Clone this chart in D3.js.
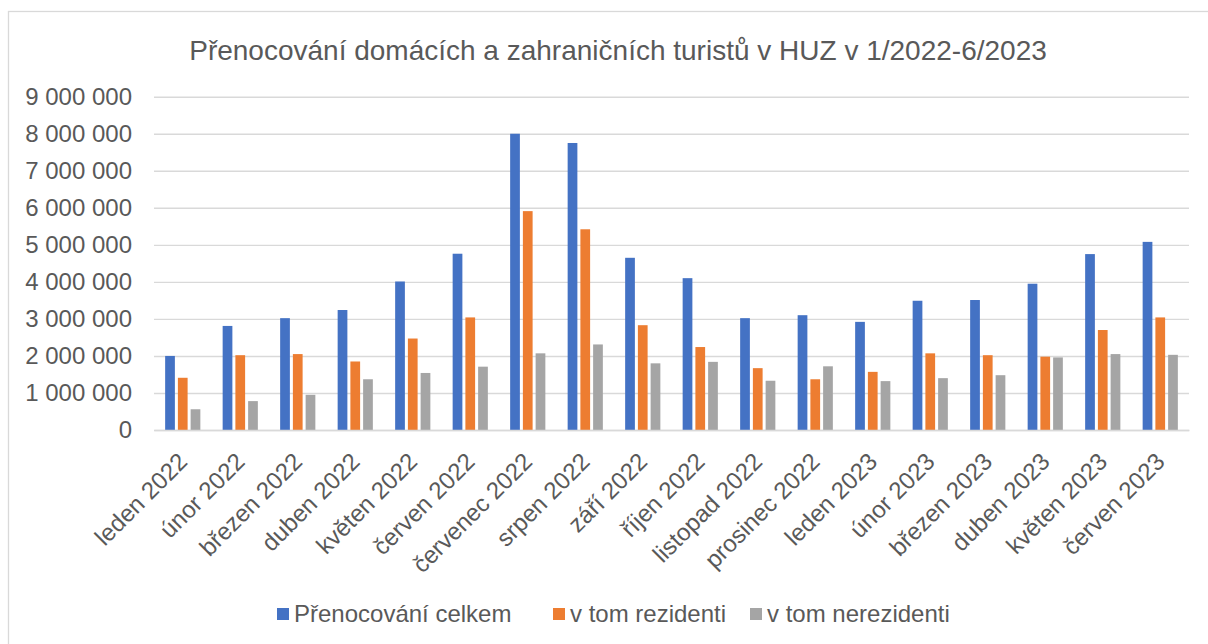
<!DOCTYPE html>
<html><head><meta charset="utf-8">
<script src="https://cdn.jsdelivr.net/npm/d3@7"></script>
<style>
html,body{margin:0;padding:0;background:#fff;}
svg{display:block;font-family:"Liberation Sans",Arial,sans-serif;}
</style></head>
<body>
<svg id="chart" width="1208" height="644"></svg>
<script>
const categories = ["leden 2022","únor 2022","březen 2022","duben 2022","květen 2022","červen 2022","červenec 2022","srpen 2022","září 2022","říjen 2022","listopad 2022","prosinec 2022","leden 2023","únor 2023","březen 2023","duben 2023","květen 2023","červen 2023"];
const seriesNames = ["Přenocování celkem","v tom rezidenti","v tom nerezidenti"];
const celkem =      [2000000,2810000,3020000,3240000,4010000,4760000,8000000,7750000,4650000,4100000,3020000,3100000,2920000,3490000,3510000,3950000,4750000,5080000];
const rezidenti =   [1410000,2020000,2050000,1850000,2470000,3040000,5910000,5420000,2830000,2240000,1670000,1370000,1570000,2070000,2020000,1980000,2700000,3040000];
const nerezidenti = [ 560000, 780000, 950000,1370000,1540000,1710000,2070000,2310000,1800000,1840000,1330000,1720000,1320000,1400000,1480000,1960000,2050000,2030000];
const yTicks = [0,1000000,2000000,3000000,4000000,5000000,6000000,7000000,8000000,9000000];
const title = "Přenocování domácích a zahraničních turistů v HUZ v 1/2022-6/2023";
const colors = ["#4472C4","#ED7D31","#A5A5A5"];

const seriesValues = [celkem, rezidenti, nerezidenti];
const svg = d3.select("#chart");
const textColor = "#595959";
const gridColor = "#D9D9D9";

// chart border
svg.append("rect").attr("x",8.5).attr("y",11.5).attr("width",1300).attr("height",800)
  .attr("fill","none").attr("stroke",gridColor).attr("stroke-width",1.3);

const plot = {left:154, right:1189, top:96.7, bottom:430};
const x0 = d3.scaleBand().domain(categories).range([plot.left, plot.right]).paddingInner(0).paddingOuter(0);
const x1 = d3.scaleBand().domain(seriesNames).range([-17.6, 17.6]).paddingInner(0.236).paddingOuter(0);
const y = d3.scaleLinear().domain([0, 9000000]).range([plot.bottom, plot.top]);

const loc = d3.formatLocale({decimal:",", thousands:"\u00a0", grouping:[3], currency:["","Kč"]});
const fmt = loc.format(",");

// title
svg.append("text").attr("x",618).attr("y",60).attr("text-anchor","middle")
  .attr("font-size",28).attr("fill",textColor).text(title);

// gridlines
svg.append("g").selectAll("line").data(yTicks).join("line")
  .attr("x1",plot.left).attr("x2",plot.right)
  .attr("y1",d=>y(d)+0.5).attr("y2",d=>y(d)+0.5)
  .attr("stroke",gridColor).attr("stroke-width",1.4);

// y axis
const yAxis = d3.axisLeft(y).tickValues(yTicks).tickFormat(fmt).tickSize(0).tickPadding(22);
const gy = svg.append("g").attr("transform",`translate(${plot.left},0)`).call(yAxis);
gy.select(".domain").remove();
gy.selectAll("text").attr("font-size",24).attr("fill",textColor).attr("font-family","Liberation Sans, Arial, sans-serif");

// bars
const data = categories.map((c,i)=>({cat:c, vals: seriesNames.map((s,j)=>({s, v: seriesValues[j][i], j}))}));
const groups = svg.append("g").selectAll("g").data(data).join("g")
  .attr("transform",d=>`translate(${x0(d.cat)+x0.bandwidth()/2},0)`);
groups.selectAll("rect").data(d=>d.vals).join("rect")
  .attr("x",d=>x1(d.s)).attr("width",x1.bandwidth())
  .attr("y",d=>y(d.v)).attr("height",d=>y(0)-y(d.v))
  .attr("fill",d=>colors[d.j]);

// x axis
const xAxis = d3.axisBottom(x0).tickSize(0).tickPadding(0);
const gx = svg.append("g").attr("transform",`translate(0,${plot.bottom})`).call(xAxis);
gx.select(".domain").attr("stroke",gridColor).attr("stroke-width",1.4);
gx.selectAll("text")
  .attr("font-size",24).attr("fill",textColor).attr("font-family","Liberation Sans, Arial, sans-serif")
  .attr("text-anchor","end").attr("dy",null).attr("y",null)
  .attr("dominant-baseline","central")
  .attr("transform","translate(0,27) rotate(-45)");

// legend
const legendItems = [
  {name:seriesNames[0], color:colors[0], x:277},
  {name:seriesNames[1], color:colors[1], x:553},
  {name:seriesNames[2], color:colors[2], x:750}
];
const lg = svg.append("g").selectAll("g").data(legendItems).join("g")
  .attr("transform",d=>`translate(${d.x},0)`);
lg.append("rect").attr("x",0).attr("y",608).attr("width",12).attr("height",12).attr("fill",d=>d.color);
lg.append("text").attr("x",17).attr("y",622).attr("font-size",24).attr("fill",textColor).text(d=>d.name);
</script>
</body></html>
